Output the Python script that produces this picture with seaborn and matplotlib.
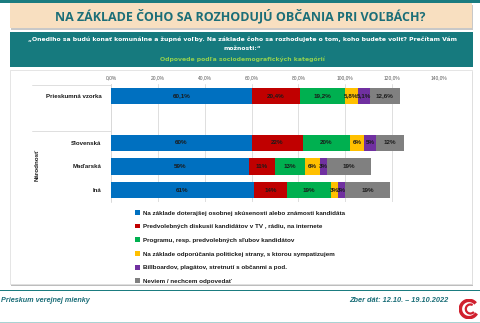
import matplotlib
matplotlib.use("Agg")
import matplotlib.pyplot as plt
import seaborn as sns
import pandas as pd
import numpy as np
from matplotlib.patches import Rectangle, Patch, Arc

categories = ["Prieskumná vzorka", "Slovenská", "Maďarská", "Iná"]
order = ["Prieskumná vzorka", " ", "Slovenská", "Maďarská", "Iná"]
decimals = [1, 0, 0, 0]

series_names = [
    "Na základe doterajšej osobnej skúsenosti alebo známosti kandidáta",
    "Predvolebných diskusií kandidátov v TV , rádiu, na internete",
    "Programu, resp. predvolebných sľubov kandidátov",
    "Na základe odporúčania politickej strany, s ktorou sympatizujem",
    "Billboardov, plagátov, stretnutí s občanmi a pod.",
    "Neviem / nechcem odpovedať",
]
skusenost = [60.1, 60, 59, 61]
diskusie = [20.4, 22, 11, 14]
program = [19.2, 20, 13, 19]
odporucanie = [5.8, 6, 6, 3]
billboardy = [5.1, 5, 3, 3]
neviem = [12.6, 12, 19, 19]
series_values = [skusenost, diskusie, program, odporucanie, billboardy, neviem]
colors = ["#0070C0", "#C00000", "#00B050", "#FFC000", "#7030A0", "#808080"]
xticks = [0, 20, 40, 60, 80, 100, 120, 140]

sns.set_theme(style="white")
plt.rcParams["font.family"] = ["Liberation Sans", "DejaVu Sans"]

W, H = 480, 323
fig = plt.figure(figsize=(W / 100, H / 100), dpi=100)

def fx(px):
    return px / W

def fy(py):
    return 1 - py / H

def frect(x0, y_top, w, h, **kw):
    kw.setdefault("lw", 0)
    r = Rectangle((fx(x0), fy(y_top + h)), w / W, h / H, transform=fig.transFigure,
                  zorder=-10, **kw)
    fig.add_artist(r)

# top line
frect(0, 0, W, 2.5, color="#1B7C80")
# title banner
frect(11, 4.5, 462, 25, color="#C8C8C8")
frect(10, 3, 462, 25, color="#F8DFC0")
fig.text(fx(240), fy(16), "NA ZÁKLADE ČOHO SA ROZHODUJÚ OBČANIA PRI VOĽBÁCH?",
         ha="center", va="center", fontsize=9.0, fontweight="bold", color="#1B6E78",
         family="Open Sans")
# teal box
frect(10, 32, 463, 35, color="#167A7E")
sub_kw = dict(ha="center", va="center", fontsize=4.45, fontweight="bold",
              family="DejaVu Sans")
fig.text(fx(242), fy(39), "„Onedlho sa budú konať komunálne a župné voľby. Na základe čoho sa rozhodujete o tom, koho budete voliť? Prečítam Vám",
         color="white", **sub_kw)
fig.text(fx(242), fy(48.5), "možnosti:“", color="white", **sub_kw)
fig.text(fx(242), fy(59), "Odpovede podľa sociodemografických kategórií",
         color="#92D050", **sub_kw)

# chart box
frect(11, 72, 462, 214, facecolor="#BDBDBD")
frect(10, 70, 462, 214, facecolor="white", edgecolor="#E0E0E0", lw=0.6)

ax = fig.add_axes([fx(111), fy(201.75), fx(439 - 111), (201.75 - 84.25) / H])
ax.patch.set_alpha(0)

rows = []
for i, c in enumerate(categories):
    row = {"row": c}
    cum = 0
    for k, vals in enumerate(series_values):
        cum += vals[i]
        row[f"cum{k}"] = cum
    rows.append(row)
df = pd.DataFrame(rows)

for k in range(len(series_values) - 1, -1, -1):
    sns.barplot(data=df, y="row", x=f"cum{k}", order=order, color=colors[k],
                saturation=1, orient="h", width=0.72, errorbar=None, linewidth=0,
                ax=ax, zorder=3)

pos = {c: order.index(c) for c in categories}
for i, c in enumerate(categories):
    cum = 0
    for k, vals in enumerate(series_values):
        v = vals[i]
        center = cum + v / 2
        cum += v
        lab = (f"{v:.{decimals[i]}f}%").replace(".", ",")
        ax.text(center, pos[c], lab, ha="center", va="center", fontsize=4.5,
                fontweight="bold", color="#1A1A1A", zorder=5)

ax.set_xlim(0, 140)
ax.set_ylim(4.5, -0.5)
ax.set_xticks(xticks)
ax.set_xticklabels([f"{t:.1f}%".replace(".", ",") for t in xticks], fontsize=3.5,
                   color="#595959")
ax.xaxis.tick_top()
ax.tick_params(axis="x", length=0, pad=3)
ax.tick_params(axis="y", length=0, pad=7)
ax.set_yticks(range(len(order)))
ax.set_yticklabels(order, fontsize=4.4, fontweight="bold", color="#1A1A1A")
ax.set_xlabel("")
ax.set_ylabel("")
ax.grid(axis="x", color="#D9D9D9", lw=0.6, zorder=0)
for s in ["top", "right", "bottom"]:
    ax.spines[s].set_visible(False)
ax.spines["left"].set_color("#D9D9D9")
ax.spines["left"].set_linewidth(0.6)

# group lines at left
for yy in [84.5, 131]:
    fig.add_artist(plt.Line2D([fx(32), fx(111)], [fy(yy), fy(yy)], transform=fig.transFigure,
                              color="#D9D9D9", lw=0.6))
fig.text(fx(37), fy(165), "Národnosť", rotation=90, ha="center", va="center",
         fontsize=4.5, fontweight="bold", color="#1A1A1A")

handles = [Patch(facecolor=c, edgecolor="none") for c in colors]
leg = fig.legend(handles, series_names, loc="upper left",
                 bbox_to_anchor=(fx(135), fy(210)), frameon=False, fontsize=4.5,
                 handlelength=0.8, handleheight=0.8, handletextpad=0.5,
                 labelspacing=1.3, borderaxespad=0, borderpad=0)
for t in leg.get_texts():
    t.set_fontweight("bold")
    t.set_color("#1A1A1A")

# footer
frect(0, 289.5, W, 1.8, color="#1B7C80")
frect(0, 321.8, W, 1.2, color="#A9D3D3")
fig.text(fx(1), fy(301), "Prieskum verejnej mienky", ha="left", va="center",
         fontsize=5.2, fontweight="bold", style="italic", color="#1B6E78")
fig.text(fx(448), fy(301), "Zber dát: 12.10. – 19.10.2022", ha="right", va="center",
         fontsize=5.3, fontweight="bold", style="italic", color="#1B6E78")
# logo
lax = fig.add_axes([fx(459), fy(321), fx(20), 24 / H])
lax.set_xlim(-1.1, 1.1)
lax.set_ylim(-1.1, 1.1)
lax.set_aspect("equal")
lax.axis("off")
lax.add_patch(Arc((0, 0), 1.9, 1.9, theta1=40, theta2=330, color="#D0202E", lw=2.5))
lax.add_patch(Arc((0.15, 0), 1.0, 1.0, theta1=60, theta2=320, color="#D0202E", lw=1.6))

fig.savefig("out.png", dpi=100)
